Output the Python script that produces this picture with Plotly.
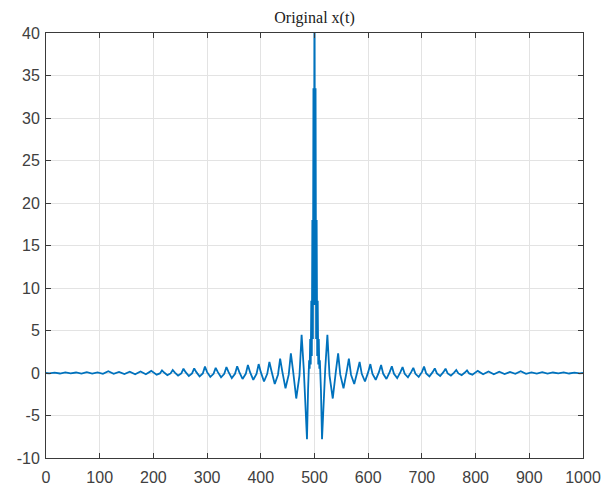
import plotly.graph_objects as go

# Sample positions (t) and signal values x(t)
t_left = [0, 6, 16, 26, 36, 46, 56, 66, 76, 86, 96, 106, 116, 126, 136, 146, 156, 166, 176, 186,
          196,
          206, 212, 216, 220, 226, 232, 236, 240, 246, 252, 256, 260, 266, 272, 276, 280,
          286, 292, 296, 300, 306, 312, 316, 320, 326, 332, 336, 340, 346, 352, 356, 360,
          366, 372, 376, 380, 386, 392, 396, 400, 406, 412, 416, 420, 426, 432, 436, 440,
          446, 452, 456, 460, 466, 472, 476, 480, 486]
x_left = [0.0, -0.05, 0.05, -0.06, 0.08, -0.05, 0.06, -0.08, 0.1, -0.06, 0.08, -0.1, 0.2, -0.1,
          0.12, -0.12, 0.15, -0.15, 0.18, -0.15,
          0.25,
          -0.2, -0.05, 0.3, 0.05, -0.25, -0.05, 0.35, 0.05, -0.3, -0.05, 0.5, 0.1, -0.35, -0.05, 0.55, 0.1,
          -0.4, -0.05, 0.75, 0.1, -0.45, -0.1, 0.6, 0.1, -0.5, -0.1, 0.7, 0.1, -0.6, -0.1, 0.8, 0.1,
          -0.7, -0.1, 0.95, 0.1, -0.8, -0.1, 1.05, 0.1, -1.0, -0.1, 1.3, 0.2, -1.3, -0.2, 1.7, 0.2,
          -1.8, -0.2, 2.3, 0.3, -3.0, -0.3, 4.5, 0.5, -7.8]

t_center = [488, 490, 491, 492, 493, 494, 495, 496, 497, 498, 499, 500, 501, 502, 503, 504, 505,
            506, 507, 508, 509, 510, 512]
x_center = [-2.0, 1.5, 0.5, 4.0, 1.0, 8.5, 2.0, 18.0, 4.0, 33.5, 8.0, 50.0, 8.0, 33.5, 4.0, 18.0,
            2.0, 8.5, 1.0, 4.0, 0.5, 1.5, -2.0]

t_right = [514, 520, 524, 528, 534, 540, 544, 548, 554, 560, 564, 568, 574, 580, 584, 588,
           594, 600, 604, 608, 614, 620, 624, 628, 634, 640, 644, 648, 654, 660, 664, 668,
           674, 680, 684, 688, 694, 700, 704, 708, 714, 720, 724, 728, 734, 740, 744, 748,
           754, 760, 764, 768, 774, 780, 784, 788, 794,
           804, 814, 824, 834, 844, 854, 864, 874, 884, 894, 904, 914, 924, 934, 944, 954, 964,
           974, 984, 994, 1000]
x_right = [-7.8, 0.5, 4.5, -0.3, -3.0, 0.3, 2.3, -0.2, -1.8, 0.2, 1.7, -0.2, -1.3, 0.2, 1.3, -0.1,
           -1.0, 0.1, 1.05, -0.1, -0.8, 0.1, 0.95, -0.1, -0.7, 0.1, 0.8, -0.1, -0.6, 0.1, 0.7, -0.1,
           -0.5, 0.1, 0.6, -0.1, -0.45, 0.1, 0.75, -0.05, -0.4, 0.1, 0.55, -0.05, -0.35, 0.1, 0.5, -0.05,
           -0.3, 0.05, 0.35, -0.05, -0.25, 0.05, 0.3, -0.05, -0.2,
           0.25, -0.15, 0.18, -0.15, 0.15, -0.12, 0.12, -0.1, 0.2, -0.1, 0.08, -0.06, 0.1, -0.08,
           0.06, -0.05, 0.08, -0.06, 0.05, -0.05, 0.0]

x_ticks = [0, 100, 200, 300, 400, 500, 600, 700, 800, 900, 1000]
y_ticks = [-10, -5, 0, 5, 10, 15, 20, 25, 30, 35, 40]
title_text = "Original x(t)"

t_all = t_left + t_center + t_right
x_all = x_left + x_center + x_right

fig = go.Figure()
fig.add_trace(go.Scatter(x=t_all, y=x_all, mode="lines",
                         line=dict(color="#0072BD", width=1.8), showlegend=False))

axis_common = dict(
    showgrid=True, gridcolor="#e3e3e3", gridwidth=1,
    showline=True, linecolor="#3a3a3a", linewidth=1, mirror="ticks",
    ticks="inside", ticklen=5, tickcolor="#3a3a3a",
    tickfont=dict(family="Liberation Sans, Arial", size=16, color="#404040"),
    zeroline=False, automargin=False,
)

fig.update_layout(
    width=614, height=489,
    margin=dict(l=46, r=31, t=33, b=31),
    paper_bgcolor="white", plot_bgcolor="white",
    title=dict(text=title_text, x=0.5, xref="paper", xanchor="center",
               y=1.0, yref="paper", yanchor="bottom", pad=dict(b=10),
               font=dict(family="Liberation Serif, serif", size=16, color="#202020")),
    xaxis=dict(range=[0, 1000], tickvals=x_ticks, ticktext=[str(v) for v in x_ticks],
               ticklabelstandoff=5, **axis_common),
    yaxis=dict(range=[-10, 40], tickvals=y_ticks, ticktext=[str(v) for v in y_ticks],
               ticklabelstandoff=2, **axis_common),
)

fig.write_html("out.html")
